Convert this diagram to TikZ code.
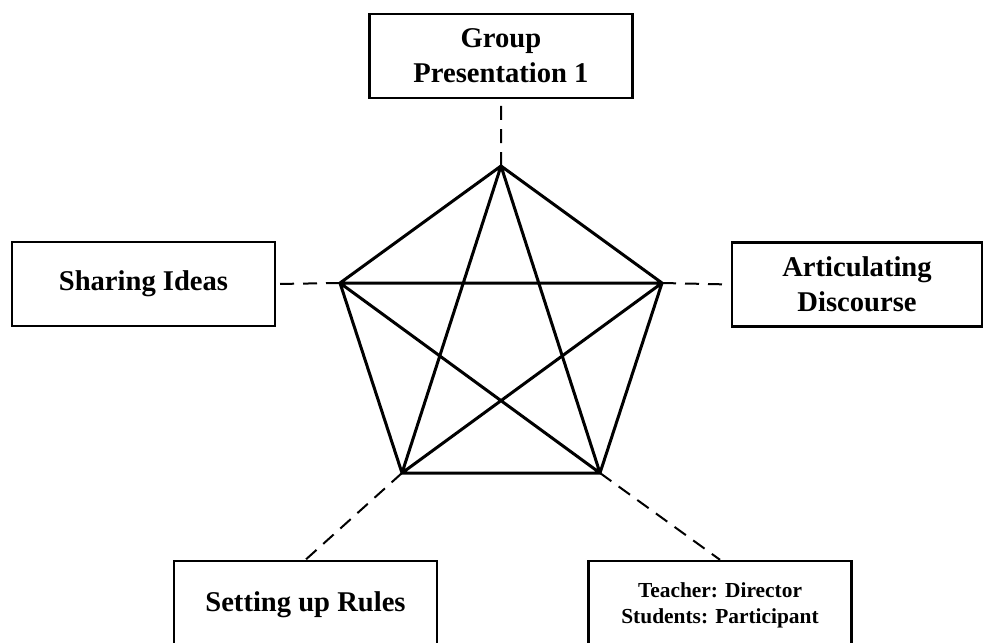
\documentclass[tikz,border=0pt]{standalone}
\usepackage{fontspec}
\setmainfont{Liberation Serif}
\usetikzlibrary{calc,positioning}

\tikzset{
  stagebox/.style={draw,line width=1.2pt,align=center,inner sep=0pt,
    minimum width=131.5pt,minimum height=42pt,
    font=\fontsize{14.3}{17.5}\selectfont\bfseries},
  smalltext/.style={font=\fontsize{10.7}{13}\selectfont\bfseries},
  link/.style={line width=1pt,dash pattern=on 7pt off 4.5pt},
}

\begin{document}
\begin{tikzpicture}[x=0.5pt,y=-0.5pt,line join=miter]
\useasboundingbox (0,0) rectangle (984,642);
\clip (0,0) rectangle (984,642);
\coordinate (A) at (501,166);
\coordinate (B) at (662,283);
\coordinate (C) at (600,473);
\coordinate (D) at (402,473);
\coordinate (E) at (340,283);
\draw[line width=1.5pt] (A)--(B)--(C)--(D)--(E)--cycle (A)--(C) (A)--(D) (B)--(D) (B)--(E) (C)--(E);

\node[stagebox] (pres) at (501,56) {Group\\Presentation 1};
\node[stagebox] (share) at (143.5,284) {Sharing Ideas};
\node[stagebox,minimum width=125pt] (artic) at (857,284.5) {Articulating\\Discourse};
\node[stagebox,minimum height=44pt] (rules) at (305.5,605) {Setting up Rules};
\node[stagebox,smalltext,minimum height=44pt] (roles) at (720,605) {Teacher: Director\\Students: Participant};

\draw[link] (A)--(pres.south) (E)--(share.east) (B)--(artic.west) (D)--(rules.north) (C)--(roles.north);

\end{tikzpicture}
\end{document}
